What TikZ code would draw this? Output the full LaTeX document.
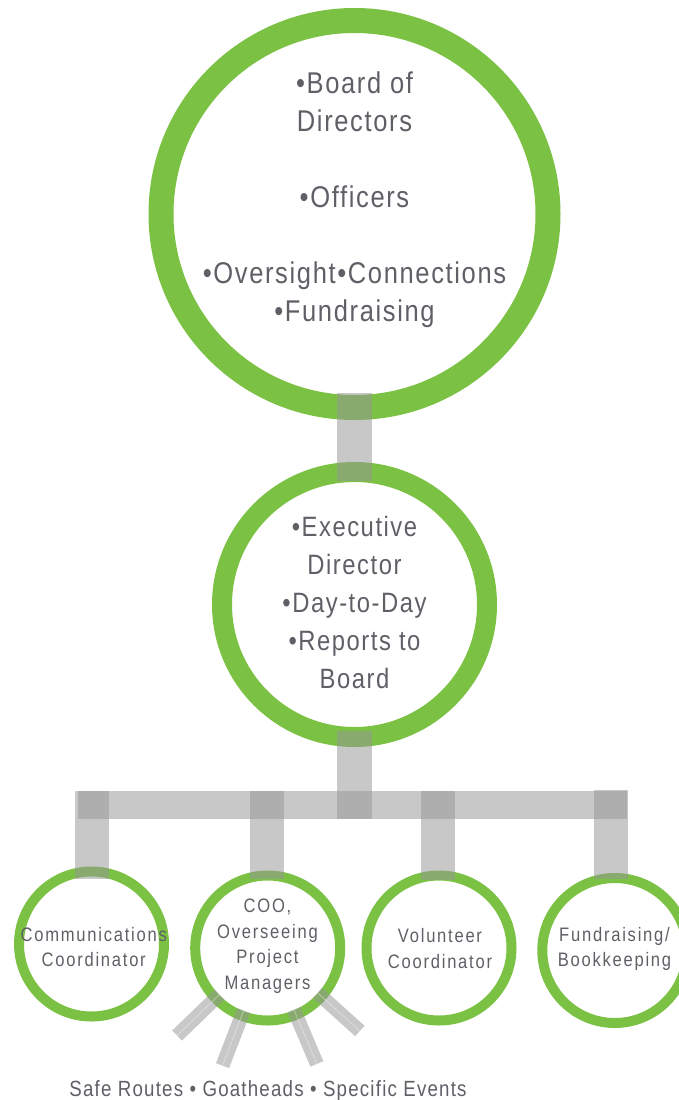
\documentclass[tikz,border=0pt]{standalone}
\usepackage{fontspec}
\usetikzlibrary{calc}
\newfontfamily\rc[FakeStretch=0.85,LetterSpace=5.5]{Liberation Sans}
\newfontfamily\rcs[FakeStretch=0.85,LetterSpace=9]{Liberation Sans}
\definecolor{ringgreen}{HTML}{7BC143}
\definecolor{bargray}{HTML}{979797}
\definecolor{txtgray}{HTML}{5F6066}
\begin{document}
\begin{tikzpicture}[x=1pt,y=-1pt,
  ring/.style={circle,draw=ringgreen,inner sep=0pt},
  bigring/.style={ring,line width=25pt,minimum size=387pt},
  midring/.style={ring,line width=20pt,minimum size=265pt},
  smallring/.style={ring,line width=10pt,minimum size=145pt},
  bar/.style={draw=bargray,draw opacity=0.53,line cap=butt},
  vbar/.style={bar,line width=35pt},
  hbar/.style={bar,line width=28pt},
  dropbar/.style={bar,line width=34pt},
  spoke/.style={bar,line width=14pt,shorten <=67pt},
  spokeline/.style={draw=white,draw opacity=0.45,line width=0.6pt,shorten <=67pt},
  txt/.style={text=txtgray,align=center,inner sep=0pt},
  bigtxt/.style={txt,font=\rc\fontsize{30}{38}\selectfont},
  midtxt/.style={txt,font=\rc\fontsize{28}{38}\selectfont},
  smalltxt/.style={txt,font=\rcs\fontsize{19.5}{25.7}\selectfont},
  bottomtxt/.style={txt,font=\rc\fontsize{22}{26}\selectfont},
]
\useasboundingbox (0,0) rectangle (679,1100);

% circles
\node[bigring] (board) at (354.5,214) {};
\node[midring] (exec) at (354.5,604.5) {};
\node[smallring] (comm) at (91.5,944) {};
\node[smallring] (coo) at (267.7,948) {};
\node[smallring] (vol) at (439,948) {};
\node[smallring] (fund) at (614.8,950.5) {};

% bus coordinates
\coordinate (busM) at (354.5,819);
\coordinate (busL) at (78,805);
\coordinate (busR) at (627,805);
\coordinate (d1) at (92,791);
\coordinate (d2) at (267,791);
\coordinate (d3) at (437.7,791);
\coordinate (d4) at (610.5,790);

% connectors
\draw[vbar,shorten <=179pt,shorten >=123.5pt] (board.center) -- (exec.center);
\draw[vbar,shorten <=126.5pt] (exec.center) -- (busM);
\draw[hbar] (busL) -- (busR);
\draw[dropbar,shorten >=65pt] (d1) -- (d1 |- comm.center);
\draw[dropbar,shorten >=69pt] (d2) -- (d2 |- coo.center);
\draw[dropbar,shorten >=68pt] (d3) -- (d3 |- vol.center);
\draw[dropbar,shorten >=71.5pt] (d4) -- (d4 |- fund.center);

% spokes
\coordinate (s1) at ($(coo.center)+(136:126)$);
\coordinate (s2) at ($(coo.center)+(111:126)$);
\coordinate (s3) at ($(coo.center)+(67:126)$);
\coordinate (s4) at ($(coo.center)+(42:124)$);
\foreach \s in {s1,s2,s3,s4}{
  \draw[spoke] (coo.center) -- (\s);
  \draw[spokeline] (coo.center) -- (\s);
}

% texts
\node[bigtxt] (tboard) at (354.5,200) {•Board of\\Directors\\[38pt]•Officers\\[38pt]•Oversight•Connections\\•Fundraising};
\node[midtxt] (texec) at (354.5,602.4) {•Executive\\Director\\•Day-to-Day\\•Reports to\\Board};
\node[smalltxt] (tcomm) at (93.7,947) {Communications\\Coordinator};
\node[smalltxt] (tcoo) at (267.5,946.2) {COO,\\Overseeing\\Project\\Managers};
\node[smalltxt] (tvol) at (440,948.8) {Volunteer\\Coordinator};
\node[smalltxt] (tfund) at (614.5,949) {Fundraising/\\Bookkeeping};
\node[bottomtxt,anchor=base] (tbottom) at (268,1096) {Safe Routes • Goatheads • Specific Events};
\end{tikzpicture}
\end{document}
